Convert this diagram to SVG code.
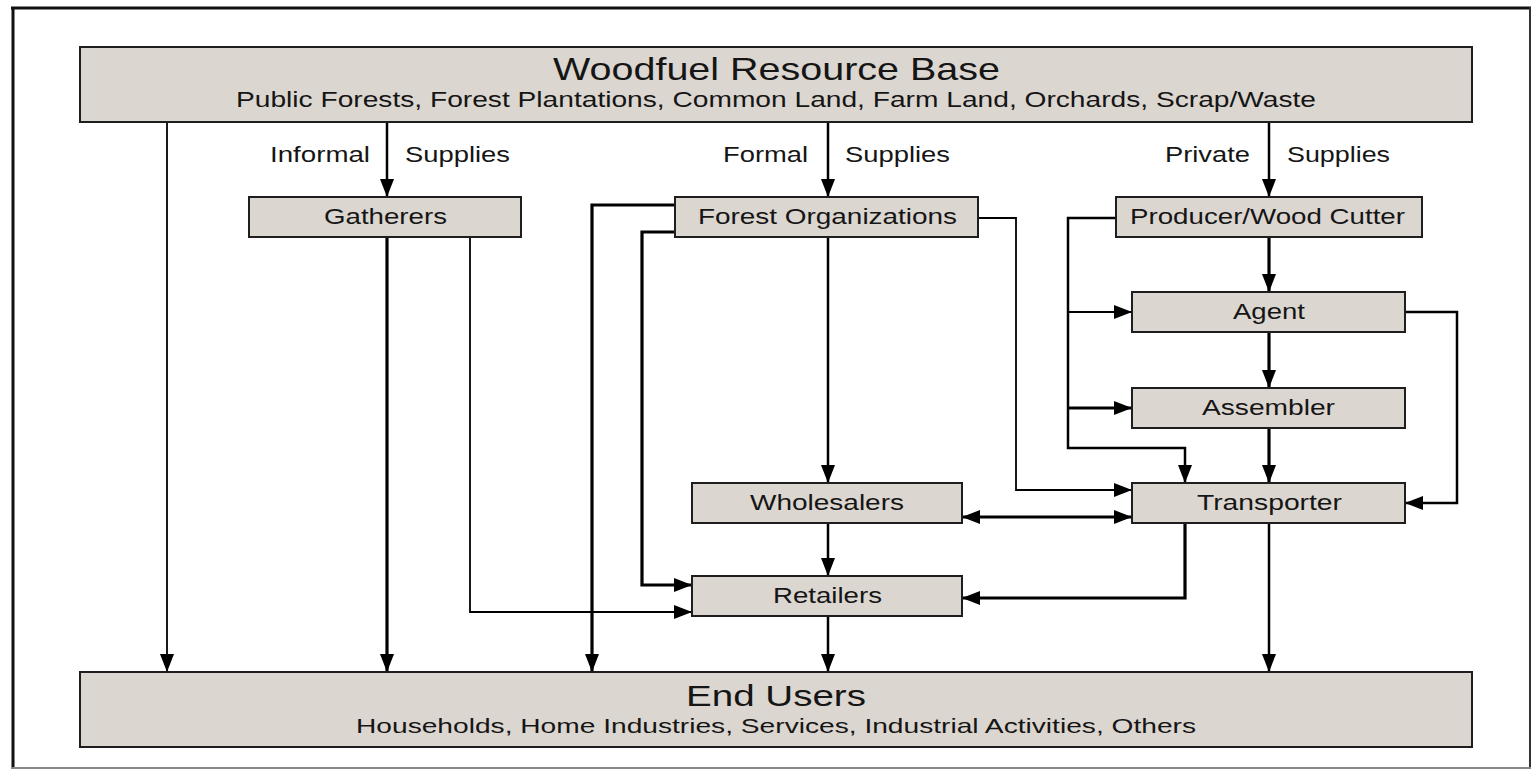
<svg xmlns="http://www.w3.org/2000/svg" width="1534" height="771" viewBox="0 0 1534 771">
<style>
.box{fill:#dcd6d0;stroke:#1e1e1e;stroke-width:2}
.t{font-family:"Liberation Sans",Arial,sans-serif;fill:#151515}
.lbl{font-size:22px}
.c{fill:none;stroke:#000;stroke-linejoin:miter}
.thin{stroke-width:1.8}
.mid{stroke-width:2.5}
.thick{stroke-width:3.2}
</style>
<defs>
<marker id="ah" viewBox="0 0 18 16" refX="18" refY="8" markerWidth="18" markerHeight="16" markerUnits="userSpaceOnUse" orient="auto-start-reverse">
<path d="M0,1 L18,8 L0,15 z" fill="#000"/>
</marker>
</defs>
<rect x="0" y="0" width="1534" height="771" fill="#fff"/>
<g id="frame">
<line x1="11" y1="8" x2="1531" y2="8" stroke="#111" stroke-width="3"/>
<line x1="13" y1="7" x2="13" y2="769" stroke="#111" stroke-width="3"/>
<line x1="1530" y1="7" x2="1530" y2="769" stroke="#333" stroke-width="2"/>
<line x1="12" y1="768" x2="1531" y2="768" stroke="#888" stroke-width="2"/>
</g>
<g id="connectors">
<path class="c thin" d="M167,122 V672" marker-end="url(#ah)"/>
<path class="c mid" d="M387,122 V197" marker-end="url(#ah)"/>
<path class="c mid" d="M828,122 V197" marker-end="url(#ah)"/>
<path class="c mid" d="M1269,122 V197" marker-end="url(#ah)"/>
<path class="c thick" d="M387,237 V672" marker-end="url(#ah)"/>
<path class="c thin" d="M470,237 V612 H692" marker-end="url(#ah)"/>
<path class="c thick" d="M675,205 H592 V672" marker-end="url(#ah)"/>
<path class="c thick" d="M675,232 H642 V585 H692" marker-end="url(#ah)"/>
<path class="c mid" d="M828,237 V483" marker-end="url(#ah)"/>
<path class="c thin" d="M978,218 H1016 V490 H1132" marker-end="url(#ah)"/>
<path class="c thick" d="M962,517 H1132" marker-start="url(#ah)" marker-end="url(#ah)"/>
<path class="c mid" d="M828,523 V576" marker-end="url(#ah)"/>
<path class="c mid" d="M828,616 V672" marker-end="url(#ah)"/>
<path class="c thick" d="M1185,523 V598 H962" marker-end="url(#ah)"/>
<path class="c mid" d="M1269,523 V672" marker-end="url(#ah)"/>
<path class="c mid" d="M1116,218 H1068 V448 H1185 V483" marker-end="url(#ah)"/>
<path class="c thin" d="M1068,312 H1132" marker-end="url(#ah)"/>
<path class="c thick" d="M1068,408 H1132" marker-end="url(#ah)"/>
<path class="c thick" d="M1269,237 V292" marker-end="url(#ah)"/>
<path class="c thick" d="M1269,332 V388" marker-end="url(#ah)"/>
<path class="c thick" d="M1269,428 V483" marker-end="url(#ah)"/>
<path class="c mid" d="M1405,312 H1457 V503 H1405" marker-end="url(#ah)"/>
</g>
<g id="labels">
<text class="t lbl" x="270" y="162" textLength="100" lengthAdjust="spacingAndGlyphs">Informal</text>
<text class="t lbl" x="405" y="162" textLength="105" lengthAdjust="spacingAndGlyphs">Supplies</text>
<text class="t lbl" x="723" y="162" textLength="85" lengthAdjust="spacingAndGlyphs">Formal</text>
<text class="t lbl" x="845" y="162" textLength="105" lengthAdjust="spacingAndGlyphs">Supplies</text>
<text class="t lbl" x="1165" y="162" textLength="85" lengthAdjust="spacingAndGlyphs">Private</text>
<text class="t lbl" x="1287" y="162" textLength="103" lengthAdjust="spacingAndGlyphs">Supplies</text>
</g>
<g id="resource-base">
<rect class="box" x="80" y="47" width="1392" height="75"/>
<text class="t" x="553" y="80" font-size="32" textLength="447" lengthAdjust="spacingAndGlyphs">Woodfuel Resource Base</text>
<text class="t" x="236" y="107" font-size="22" textLength="1080" lengthAdjust="spacingAndGlyphs">Public Forests, Forest Plantations, Common Land, Farm Land, Orchards, Scrap/Waste</text>
</g>
<g id="gatherers">
<rect class="box" x="249" y="197" width="272" height="40"/>
<text class="t lbl" x="324" y="224" textLength="123" lengthAdjust="spacingAndGlyphs">Gatherers</text>
</g>
<g id="forest-organizations">
<rect class="box" x="675" y="197" width="303" height="40"/>
<text class="t lbl" x="698" y="224" textLength="259" lengthAdjust="spacingAndGlyphs">Forest Organizations</text>
</g>
<g id="producer">
<rect class="box" x="1116" y="197" width="306" height="40"/>
<text class="t lbl" x="1130" y="224" textLength="275" lengthAdjust="spacingAndGlyphs">Producer/Wood Cutter</text>
</g>
<g id="agent">
<rect class="box" x="1132" y="292" width="273" height="40"/>
<text class="t lbl" x="1233" y="319" textLength="72" lengthAdjust="spacingAndGlyphs">Agent</text>
</g>
<g id="assembler">
<rect class="box" x="1132" y="388" width="273" height="40"/>
<text class="t lbl" x="1202" y="415" textLength="133" lengthAdjust="spacingAndGlyphs">Assembler</text>
</g>
<g id="transporter">
<rect class="box" x="1132" y="483" width="273" height="40"/>
<text class="t lbl" x="1197" y="510" textLength="145" lengthAdjust="spacingAndGlyphs">Transporter</text>
</g>
<g id="wholesalers">
<rect class="box" x="692" y="483" width="270" height="40"/>
<text class="t lbl" x="750" y="510" textLength="154" lengthAdjust="spacingAndGlyphs">Wholesalers</text>
</g>
<g id="retailers">
<rect class="box" x="692" y="576" width="270" height="40"/>
<text class="t lbl" x="773" y="603" textLength="109" lengthAdjust="spacingAndGlyphs">Retailers</text>
</g>
<g id="end-users">
<rect class="box" x="80" y="672" width="1392" height="75"/>
<text class="t" x="686" y="706" font-size="30" textLength="180" lengthAdjust="spacingAndGlyphs">End Users</text>
<text class="t" x="356" y="733" font-size="21" textLength="840" lengthAdjust="spacingAndGlyphs">Households, Home Industries, Services, Industrial Activities, Others</text>
</g>
</svg>
